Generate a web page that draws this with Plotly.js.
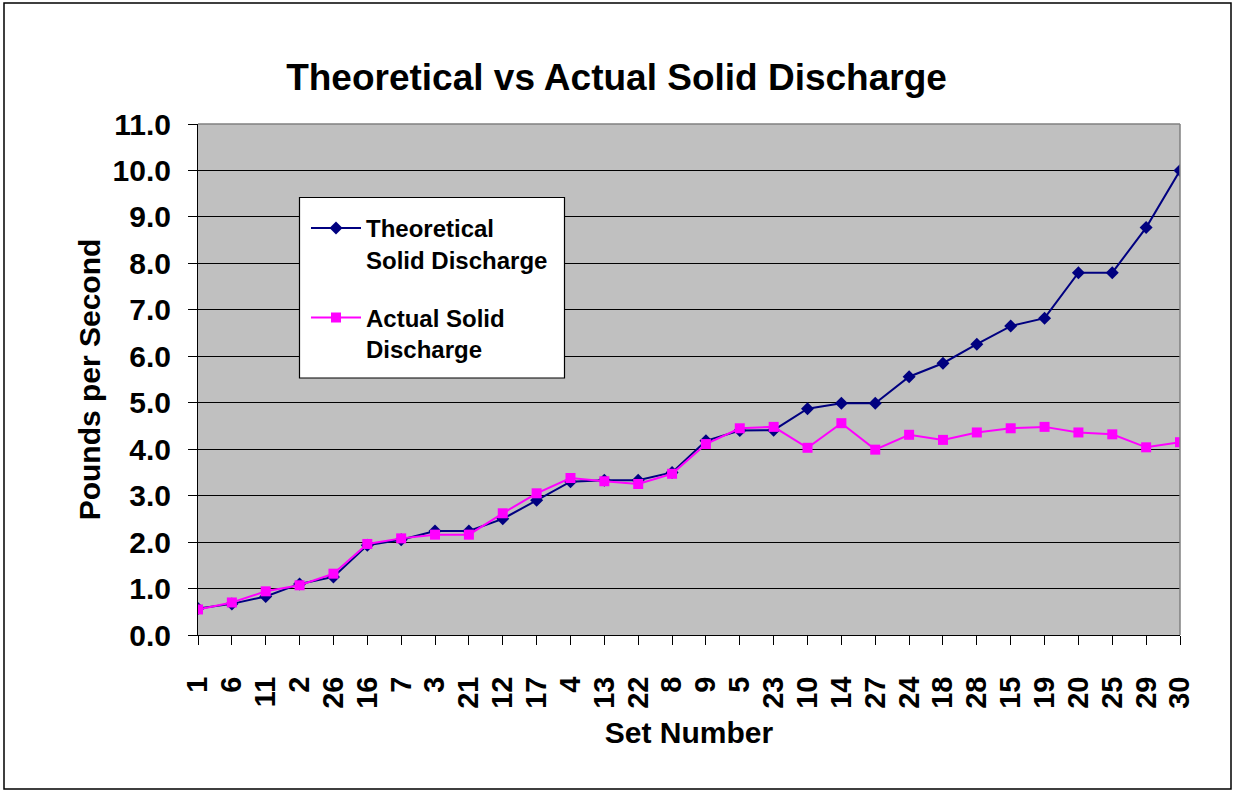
<!DOCTYPE html>
<html>
<head>
<meta charset="utf-8">
<script src="https://cdn.plot.ly/plotly-3.0.1.min.js"></script>
<style>
  html, body { margin: 0; padding: 0; background: #ffffff; }
  #chart { width: 1233px; height: 790px; }
</style>
</head>
<body>
<div id="chart"></div>
<script>
// Set numbers (x categories, in plotted order)
const setNumbers = ['1','6','11','2','26','16','7','3','21','12','17','4','13','22','8','9','5','23','10','14','27','24','18','28','15','19','20','25','29','30'];
// Theoretical solid discharge (lb/s)
const theoretical = [0.57,0.67,0.83,1.10,1.25,1.93,2.05,2.24,2.24,2.50,2.90,3.30,3.33,3.33,3.50,4.18,4.40,4.41,4.87,4.99,4.99,5.56,5.85,6.26,6.65,6.82,7.80,7.80,8.77,10.00];
// Actual solid discharge (lb/s)
const actual = [0.55,0.70,0.94,1.07,1.32,1.96,2.08,2.16,2.16,2.62,3.05,3.38,3.31,3.25,3.47,4.11,4.45,4.48,4.03,4.56,3.99,4.31,4.20,4.36,4.45,4.48,4.36,4.32,4.04,4.15];

const seriesNames = ['Theoretical<br>Solid Discharge', 'Actual Solid<br>Discharge'];
const yTicks = [0,1,2,3,4,5,6,7,8,9,10,11];

const FONT = 'Liberation Sans, Arial, sans-serif';

const traces = [
  {
    x: setNumbers, y: theoretical, name: seriesNames[0], type: 'scatter', mode: 'lines+markers',
    legendgroup: 'a',
    line: { color: '#000080', width: 2 },
    marker: { symbol: 'diamond', size: 10, color: '#000080' }
  },
  {
    x: setNumbers, y: actual, name: seriesNames[1], type: 'scatter', mode: 'lines+markers',
    legendgroup: 'b',
    line: { color: '#FF00FF', width: 2 },
    marker: { symbol: 'square', size: 10, color: '#FF00FF' }
  }
];

// plot-area pixel frame (layout only)
const PL = 198, PR = 1180, PT = 124, PB = 635;
const px = v => (v - PL) / (PR - PL);
const py = v => (PB - v) / (PB - PT);

const layout = {
  width: 1233, height: 790,
  paper_bgcolor: '#ffffff',
  plot_bgcolor: '#C0C0C0',
  margin: { l: PL, r: 1233 - PR, t: PT, b: 790 - PB, pad: 0 },
  font: { family: FONT, color: '#000000' },
  title: {
    text: '<b>Theoretical vs Actual Solid Discharge</b>',
    font: { family: FONT, size: 37, color: '#000000' },
    x: 0.5, xref: 'container', xanchor: 'center',
    y: 1 - 77/790, yref: 'container', yanchor: 'middle'
  },
  showlegend: true,
  legend: {
    x: px(306), y: py(206), xanchor: 'left', yanchor: 'top',
    bgcolor: 'rgba(0,0,0,0)', borderwidth: 0,
    font: { family: FONT, size: 24, color: '#000000', weight: 'bold' },
    valign: 'top',
    traceorder: 'grouped',
    tracegroupgap: 24,
    itemwidth: 50
  },
  xaxis: {
    type: 'category',
    range: [0, setNumbers.length - 1],
    tickmode: 'array',
    tickvals: setNumbers,
    ticktext: setNumbers,
    showgrid: false,
    zeroline: false,
    showline: true, linecolor: '#000000', linewidth: 1,
    ticks: 'outside', ticklen: 9, tickcolor: '#000000', tickwidth: 1,
    tickangle: -90,
    ticklabelstandoff: 20,
    tickfont: { family: FONT, size: 29, color: '#000000', weight: 'bold' },
    title: { text: '<b>Set Number</b>', font: { family: FONT, size: 30, color: '#000000' }, standoff: 14 },
    fixedrange: true
  },
  yaxis: {
    range: [0, 11],
    tickvals: yTicks,
    tickformat: '.1f',
    showgrid: true, gridcolor: '#000000', gridwidth: 1,
    zeroline: false,
    showline: true, linecolor: '#000000', linewidth: 1,
    ticks: 'outside', ticklen: 9, tickcolor: '#000000', tickwidth: 1,
    ticklabelstandoff: 11,
    tickfont: { family: FONT, size: 30, color: '#000000', weight: 'bold' },
    title: { text: '<b>Pounds per Second</b>', font: { family: FONT, size: 30, color: '#000000' }, standoff: 3 },
    fixedrange: true
  },
  shapes: [
    { type: 'line', xref: 'paper', yref: 'paper', x0: 0, x1: 1, y0: 1, y1: 1, line: { color: '#808080', width: 1.5 }, layer: 'above' },
    { type: 'line', xref: 'paper', yref: 'paper', x0: 1, x1: 1, y0: 0, y1: 1, line: { color: '#808080', width: 1.5 }, layer: 'above' },
    // legend frame
    { type: 'rect', xref: 'paper', yref: 'paper',
      x0: px(299.5), x1: px(564.5), y0: py(378), y1: py(197.5),
      line: { color: '#000000', width: 1.2 }, fillcolor: '#ffffff', layer: 'above' },
    // outer chart frame
    { type: 'rect', xref: 'paper', yref: 'paper',
      x0: px(4), x1: px(1231), y0: py(789), y1: py(3),
      line: { color: '#000000', width: 1.5 }, fillcolor: 'rgba(0,0,0,0)', layer: 'below' }
  ]
};

Plotly.newPlot('chart', traces, layout, { displayModeBar: false, staticPlot: true });
</script>
</body>
</html>
